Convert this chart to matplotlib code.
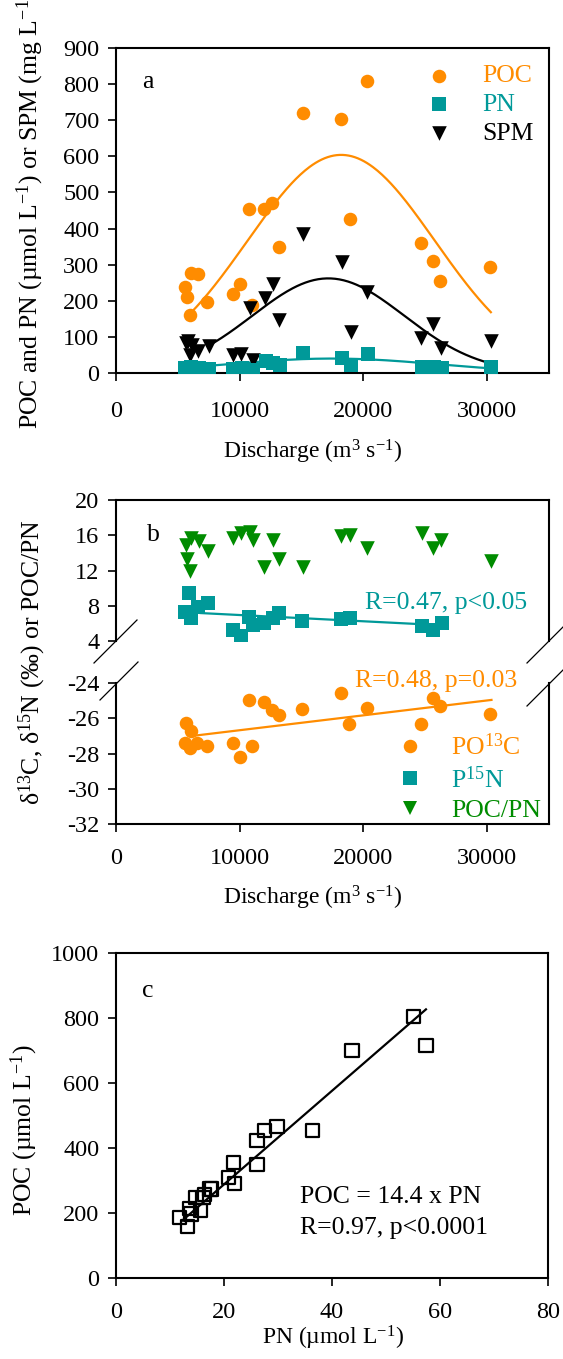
import matplotlib
matplotlib.use('Agg')
import matplotlib.pyplot as plt
import numpy as np
from matplotlib.lines import Line2D

plt.rcParams['font.family'] = ['Liberation Serif', 'DejaVu Serif']
plt.rcParams['mathtext.fontset'] = 'custom'
plt.rcParams['mathtext.rm'] = 'Liberation Serif'
plt.rcParams['mathtext.it'] = 'Liberation Serif:italic'
plt.rcParams['mathtext.bf'] = 'Liberation Serif:bold'

# ---------------- data: panel a ----------------
poc_q = [5600, 5700, 5950, 6030, 6620, 7380, 9460, 10050, 10760, 11030, 11950,
         12620, 13160, 15080, 18190, 18920, 20270, 24650, 25590, 26220, 30270]
poc_a = [239, 211, 160, 276, 273, 197, 218, 246, 454, 188, 454,
         470, 350, 720, 703, 426, 808, 359, 310, 255, 294]

pn_q = [5540, 5950, 6030, 6700, 7480, 9460, 10220, 11080, 12110, 12700, 13240,
        15140, 18300, 18970, 20350, 24730, 25680, 26350, 30320]
pn_a = [14, 12, 16, 15, 10, 12, 14, 7, 32, 28, 23,
        55, 42, 23, 54, 18, 17, 14, 18]

spm_q = [5620, 5800, 5950, 6160, 6620, 7490, 9460, 10140, 10860, 11080, 12030,
         12700, 13190, 15140, 18300, 18970, 20320, 24680, 25620, 26300, 30350]
spm_a = [83, 88, 49, 77, 61, 74, 49, 52, 181, 37, 209,
         246, 148, 385, 308, 114, 225, 98, 137, 68, 89]

# Gaussian fit parameters (amplitude, centre, width, x-range)
poc_fit = dict(a=604, x0=18200, w=7570, xr=(6000, 30300))
spm_fit = dict(a=262, x0=17160, w=6130, xr=(7500, 30350))
pn_fit = dict(a=40, x0=17500, w=8500, xr=(5600, 30300))

# ---------------- data: panel b ----------------
ratio_q = [5620, 6030, 6700, 7430, 5730, 5950, 9460, 10140, 10810, 11080, 12700,
           11950, 13160, 15080, 18190, 18920, 20320, 24730, 25620, 26300, 30350]
ratio_b = [14.9, 15.7, 15.4, 14.2, 13.3, 11.9, 15.7, 16.3, 16.4, 15.5, 15.5,
           12.4, 13.3, 12.4, 15.9, 16.0, 14.5, 16.3, 14.6, 15.5, 13.1]

n15_q = [5540, 5900, 6070, 6640, 7400, 9480, 10080, 10790, 11050, 11970, 12710,
         13140, 15070, 18200, 18900, 24730, 25620, 26330]
n15_b = [7.25, 9.4, 6.65, 7.9, 8.3, 5.25, 4.55, 6.75, 5.85, 6.0, 6.6,
         7.2, 6.3, 6.55, 6.6, 5.75, 5.3, 6.05]

c13_q = [5680, 6030, 5540, 5950, 6540, 7380, 9460, 10050, 11000, 10760, 11950,
         12620, 13160, 15050, 18190, 18860, 20270, 24650, 25590, 26220, 30270]
c13_b = [-26.25, -26.75, -27.4, -27.7, -27.4, -27.55, -27.4, -28.2, -27.55, -24.96, -25.05,
         -25.55, -25.8, -25.5, -24.55, -26.3, -25.4, -26.3, -24.87, -25.3, -25.77]

n15_fit_x = [6850, 26600]
n15_fit_y = [7.17, 5.77]
c13_fit_x = [6200, 30350]
c13_fit_y = [-27.0, -24.96]

# ---------------- data: panel c ----------------
pn_c = [11.7, 13.3, 13.6, 13.9, 14.8, 15.6, 16.1, 16.4, 17.4, 17.7, 20.8,
        21.7, 22.0, 26.1, 26.1, 27.5, 29.8, 36.4, 43.7, 55.1, 57.4]
poc_c = [187, 159, 215, 197, 248, 207, 248, 258, 274, 274, 310,
         356, 292, 349, 423, 453, 467, 453, 700, 805, 716]
slope_c = 14.4
fit_c_x = [12.2, 57.4]

# ---------------- styling ----------------
ORANGE = '#FF8C00'
TEAL = '#009999'
GREEN = '#008C00'
FS_TICK = 17.5
FS_TXT = 18.5
FS_XL = 17
FS_YL = 18.5
W, H = 563, 1359
fig = plt.figure(figsize=(W / 100, H / 100), dpi=100)


def rect(l, t, r, b):
    return [l / W, 1 - b / H, (r - l) / W, (b - t) / H]


def fxy(x, y):
    return x / W, 1 - y / H


def style(ax, xt=True, xpad=14):
    for s in ax.spines.values():
        s.set_linewidth(1.5)
    ax.tick_params(direction='out', length=6, width=1.2, labelsize=FS_TICK,
                   top=False, right=False)
    ax.tick_params(axis='y', pad=6)
    ax.tick_params(axis='x', pad=xpad)
    if not xt:
        ax.tick_params(axis='x', bottom=False, labelbottom=False)


def gauss(p, n=200):
    x = np.linspace(p['xr'][0], p['xr'][1], n)
    return x, p['a'] * np.exp(-0.5 * ((x - p['x0']) / p['w']) ** 2)


# ---------------- panel a ----------------
axa = fig.add_axes(rect(116, 48, 549, 373))
style(axa)
axa.set_xlim(0, 35000)
axa.set_ylim(0, 900)
axa.set_xticks([0, 10000, 20000, 30000])
axa.set_yticks(range(0, 901, 100))
x, y = gauss(poc_fit); axa.plot(x, y, color=ORANGE, lw=1.6, zorder=2)
x, y = gauss(spm_fit); axa.plot(x, y, color='black', lw=1.6, zorder=2)
x, y = gauss(pn_fit); axa.plot(x, y, color=TEAL, lw=1.6, zorder=2)
h1 = axa.scatter(poc_q, poc_a, s=95, marker='o', color=ORANGE, zorder=3, lw=0)
h2 = axa.scatter(pn_q, pn_a, s=95, marker='s', color=TEAL, zorder=4, lw=0)
h3 = axa.scatter(spm_q, spm_a, s=110, marker='v', color='black', zorder=3, lw=0)
axa.legend([h1, h2, h3], ['POC', 'PN', 'SPM'], loc='center left',
           bbox_to_anchor=(0.719, 0.826), frameon=False, fontsize=FS_TXT,
           handlelength=0.9, handletextpad=1.25, labelspacing=0.22,
           borderpad=0, borderaxespad=0, labelcolor=[ORANGE, TEAL, 'black'])
fig.text(*fxy(148, 82), 'a', fontsize=FS_TXT, ha='center', va='center')
fig.text(*fxy(313, 452), r'Discharge (m$^{3}$ s$^{-1}$)', fontsize=FS_XL,
         ha='center', va='center')
fig.text(*fxy(30, 429), r'POC and PN (µmol L$^{-1}$) or SPM (mg L$^{-1}$)',
         fontsize=FS_YL, rotation=90, ha='center', va='bottom')

# ---------------- panel b ----------------
axu = fig.add_axes(rect(116, 500, 549, 641))
axl = fig.add_axes(rect(116, 683, 549, 824))
style(axu, xt=False)
style(axl, xpad=11)
axu.spines['bottom'].set_visible(False)
axl.spines['top'].set_visible(False)
for ax in (axu, axl):
    ax.set_xlim(0, 35000)
    ax.set_xticks([0, 10000, 20000, 30000])
axu.set_ylim(4, 20)
axu.set_yticks([4, 8, 12, 16, 20])
axl.set_ylim(-32, -24)
axl.set_yticks([-32, -30, -28, -26, -24])
axl.set_yticklabels(['-32', '-30', '-28', '-26', '-24'])

axu.plot(n15_fit_x, n15_fit_y, color=TEAL, lw=1.6, zorder=2)
axu.scatter(ratio_q, ratio_b, s=110, marker='v', color=GREEN, lw=0, zorder=3)
axu.scatter(n15_q, n15_b, s=95, marker='s', color=TEAL, lw=0, zorder=3)
axl.plot(c13_fit_x, c13_fit_y, color=ORANGE, lw=1.6, zorder=2)
axl.scatter(c13_q, c13_b, s=95, marker='o', color=ORANGE, lw=0, zorder=3)

hc = Line2D([], [], ls='none', marker='o', ms=9.7, color=ORANGE, mew=0)
hn = Line2D([], [], ls='none', marker='s', ms=9.7, color=TEAL, mew=0)
hr = Line2D([], [], ls='none', marker='v', ms=10.5, color=GREEN, mew=0)
axl.legend([hc, hn, hr], [r'PO$^{13}$C', r'P$^{15}$N', 'POC/PN'], loc='center left',
           bbox_to_anchor=(0.652, 0.33), frameon=False, fontsize=FS_TXT,
           handlelength=0.9, handletextpad=1.15, labelspacing=0.25,
           borderpad=0, borderaxespad=0, labelcolor=[ORANGE, TEAL, GREEN])

fig.text(*fxy(153, 535), 'b', fontsize=FS_TXT, ha='center', va='center')
fig.text(*fxy(446, 603), 'R=0.47, p<0.05', fontsize=FS_TXT, color=TEAL,
         ha='center', va='center')
fig.text(*fxy(436, 681), 'R=0.48, p=0.03', fontsize=FS_TXT, color=ORANGE,
         ha='center', va='center')
fig.text(*fxy(313, 898), r'Discharge (m$^{3}$ s$^{-1}$)', fontsize=FS_XL,
         ha='center', va='center')
fig.text(*fxy(32, 662), r'δ$^{13}$C, δ$^{15}$N (‰) or POC/PN',
         fontsize=FS_YL, rotation=90, ha='center', va='center')

# break marks
for (x0, y0, x1, y1) in [(94, 663, 137, 620), (100, 700, 138, 662),
                         (527, 663, 563, 627), (527, 706, 563, 670)]:
    a0 = fxy(x0, y0); a1 = fxy(x1, y1)
    fig.add_artist(Line2D([a0[0], a1[0]], [a0[1], a1[1]], color='black',
                          lw=0.9, transform=fig.transFigure))

# ---------------- panel c ----------------
axc = fig.add_axes(rect(116, 953, 548, 1278))
style(axc, xpad=11)
axc.set_xlim(0, 80)
axc.set_ylim(0, 1000)
axc.set_xticks([0, 20, 40, 60, 80])
axc.set_yticks([0, 200, 400, 600, 800, 1000])
fx = np.array(fit_c_x)
axc.plot(fx, slope_c * fx, color='black', lw=1.6, zorder=2)
axc.scatter(pn_c, poc_c, s=90, marker='s', facecolors='none',
            edgecolors='black', linewidths=1.6, zorder=3)
fig.text(*fxy(148, 991), 'c', fontsize=FS_TXT, ha='center', va='center')
fig.text(*fxy(300, 1197), 'POC = 14.4 x PN', fontsize=FS_TXT, ha='left', va='center')
fig.text(*fxy(300, 1228), 'R=0.97, p<0.0001', fontsize=FS_TXT, ha='left', va='center')
fig.text(*fxy(333, 1338), r'PN (µmol L$^{-1}$)', fontsize=FS_XL,
         ha='center', va='center')
fig.text(*fxy(24, 1130), r'POC (µmol L$^{-1}$)', fontsize=FS_YL, rotation=90,
         ha='center', va='center')

fig.savefig('out.png', dpi=100)
